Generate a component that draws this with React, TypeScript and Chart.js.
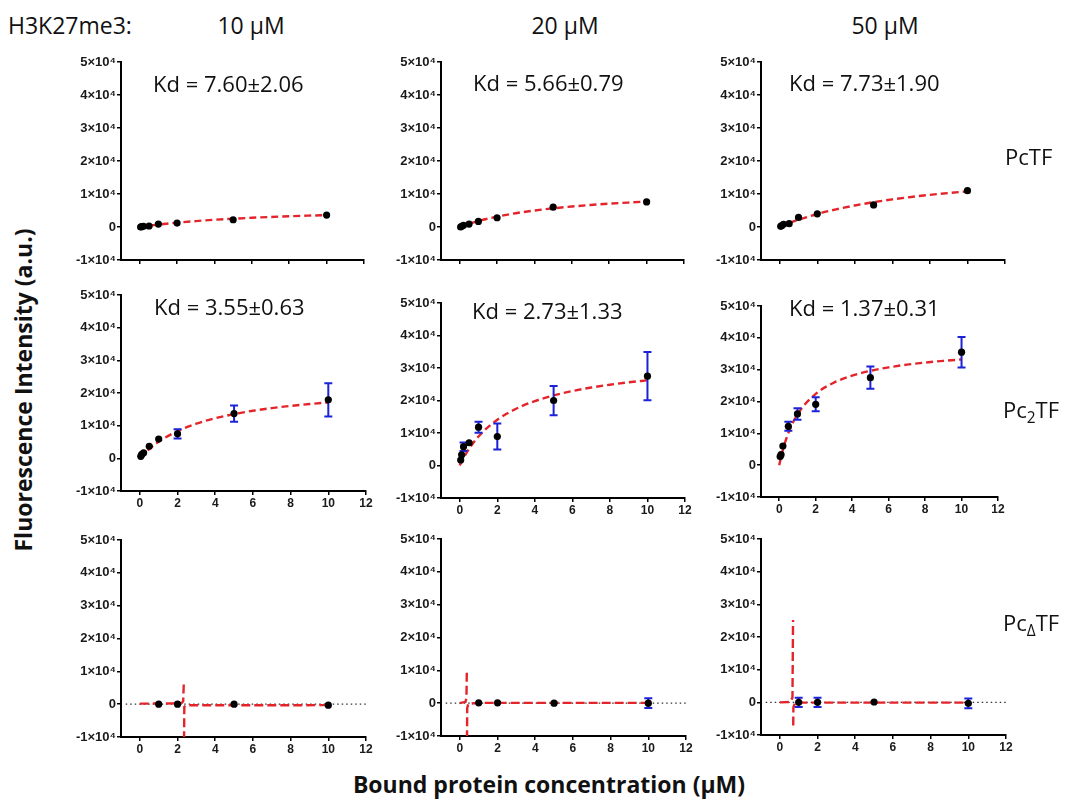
import React, { useEffect, useRef } from "react";
import { Chart, registerables } from "chart.js";
Chart.register(...registerables);

// ---------- tick labels ----------
const xTickValues = [0, 2, 4, 6, 8, 10, 12];
const yTickValues = [-10000, 0, 10000, 20000, 30000, 40000, 50000];
const yTickLabels = ["-1×10⁴", "0", "1×10⁴", "2×10⁴", "3×10⁴", "4×10⁴", "5×10⁴"];

// ---------- categories ----------
const concentrations = ["10 μM", "20 μM", "50 μM"];
const kdLabels = [
  "Kd = 7.60±2.06", "Kd = 5.66±0.79", "Kd = 7.73±1.90",
  "Kd = 3.55±0.63", "Kd = 2.73±1.33", "Kd = 1.37±0.31",
];

// ---------- x values ----------
const concFull = [0.05, 0.1, 0.2, 0.5, 1, 2, 5, 10];
const concLow = [1, 2, 5, 10];
const fitConc = [0, 0.05, 0.2, 0.5, 1, 2, 3, 4, 5, 6, 7, 8, 9, 10];

// ---------- PcTF ----------
const pcTF10 = [0, 100, 200, 300, 900, 1200, 2200, 3600];
const pcTF20 = [0, 200, 500, 900, 1700, 2800, 6000, 7600];
const pcTF50 = [200, 400, 800, 1000, 2900, 4000, 6700, 11000];
const pcTF10Fit = [0, 40, 160, 390, 740, 1320, 1790, 2190, 2510, 2800, 3040, 3250, 3440, 3600];
const pcTF20Fit = [0, 110, 410, 980, 1810, 3150, 4180, 4990, 5660, 6200, 6670, 7060, 7400, 7700];
const pcTF50Fit = [0, 120, 480, 1160, 2190, 3940, 5350, 6530, 7520, 8370, 9100, 9740, 10300, 10800];
const noErr8 = [0, 0, 0, 0, 0, 0, 0, 0];

// ---------- Pc2TF ----------
const pc2TF10 = [600, 1200, 1700, 3700, 5900, 7500, 13700, 17900];
const pc2TF10Err = [0, 0, 0, 0, 0, 1400, 2500, 5100];
const pc2TF20 = [1700, 3300, 5800, 7000, 11800, 8900, 20000, 27500];
const pc2TF20Err = [0, 0, 1300, 0, 1700, 4000, 4500, 7400];
const pc2TF50 = [2700, 3300, 6000, 12200, 16100, 19100, 27500, 35500];
const pc2TF50Err = [0, 0, 0, 1400, 1800, 2200, 3500, 4800];
const pc2TF10Fit = [0, 320, 1240, 2860, 5090, 8350, 10610, 12280, 13550, 14560, 15370, 16050, 16620, 17100];
const pc2TF20Fit = [0, 600, 2280, 5160, 8940, 14100, 17460, 19820, 21570, 22920, 23990, 24860, 25590, 26200];
const pc2TF50Fit = [0, 1330, 4810, 10090, 15930, 22400, 25920, 28120, 29630, 30730, 31570, 32230, 32760, 33200];

// ---------- PcΔTF ----------
const pcdTF10 = [0, 0, 0, -300];
const pcdTF10Err = [0, 0, 0, 0];
const pcdTF20 = [100, 100, 0, 0];
const pcdTF20Err = [0, 0, 0, 1500];
const pcdTF50 = [0, 0, 100, -300];
const pcdTF50Err = [1400, 1400, 0, 1500];
const pcdTF10FitX = [0, 2.2, 2.3, 2.335, 2.34, 2.345, 2.36, 2.45, 10];
const pcdTF10FitY = [150, 250, 900, 7000, null, -11000, -800, -350, -300];
const pcdTF20FitX = [0, 0.3, 0.35, 0.37, 0.375, 0.38, 0.39, 0.45, 1, 10];
const pcdTF20FitY = [0, 400, 1500, 9700, null, -11000, -1500, -200, 100, 100];
const pcdTF50FitX = [0, 0.55, 0.67, 0.7, 0.705, 0.71, 0.72, 0.8, 1, 10];
const pcdTF50FitY = [0, 100, 1500, 25200, null, -7100, -1500, -300, -100, -100];
const zeroLineX = [-0.75, 12];
const zeroLineY = [0, 0];

// ---------- layout (plot-area edges in page px) ----------
const AXW = 62, PADT = 10, PADR = 14, AXH = 24;
const boxes = [
  { l: 121, r: 364, t: 62, b: 260 },
  { l: 441, r: 684, t: 62, b: 260 },
  { l: 761, r: 1005, t: 62, b: 260 },
  { l: 121, r: 366, t: 295, b: 491 },
  { l: 441, r: 685, t: 303, b: 498 },
  { l: 761, r: 998, t: 306, b: 497 },
  { l: 121, r: 366, t: 540, b: 737 },
  { l: 441, r: 686, t: 539, b: 736 },
  { l: 761, r: 1006, t: 539, b: 735 },
];

type PanelDef = {
  xs: number[]; ys: number[]; errs: number[];
  fitX: number[]; fitY: (number | null)[];
  row: number; smooth: boolean; zero: boolean;
};

const panelDefs: PanelDef[] = [
  { xs: concFull, ys: pcTF10, errs: noErr8, fitX: fitConc, fitY: pcTF10Fit, row: 0, smooth: true, zero: false },
  { xs: concFull, ys: pcTF20, errs: noErr8, fitX: fitConc, fitY: pcTF20Fit, row: 0, smooth: true, zero: false },
  { xs: concFull, ys: pcTF50, errs: noErr8, fitX: fitConc, fitY: pcTF50Fit, row: 0, smooth: true, zero: false },
  { xs: concFull, ys: pc2TF10, errs: pc2TF10Err, fitX: fitConc, fitY: pc2TF10Fit, row: 1, smooth: true, zero: false },
  { xs: concFull, ys: pc2TF20, errs: pc2TF20Err, fitX: fitConc, fitY: pc2TF20Fit, row: 1, smooth: true, zero: false },
  { xs: concFull, ys: pc2TF50, errs: pc2TF50Err, fitX: fitConc, fitY: pc2TF50Fit, row: 1, smooth: true, zero: false },
  { xs: concLow, ys: pcdTF10, errs: pcdTF10Err, fitX: pcdTF10FitX, fitY: pcdTF10FitY, row: 2, smooth: false, zero: true },
  { xs: concLow, ys: pcdTF20, errs: pcdTF20Err, fitX: pcdTF20FitX, fitY: pcdTF20FitY, row: 2, smooth: false, zero: true },
  { xs: concLow, ys: pcdTF50, errs: pcdTF50Err, fitX: pcdTF50FitX, fitY: pcdTF50FitY, row: 2, smooth: false, zero: true },
];

const errorBarPlugin = {
  id: "errorBars",
  beforeDatasetDraw(chart: any, args: any) {
    const ds = chart.data.datasets[args.index];
    if (!ds.errors) return;
    const xs = chart.scales.x;
    const ys = chart.scales.y;
    const ctx = chart.ctx;
    ctx.save();
    ctx.strokeStyle = "#1c22d8";
    ctx.lineWidth = 2;
    ds.data.forEach((p: any, i: number) => {
      const e = ds.errors[i];
      if (!e) return;
      const px = xs.getPixelForValue(p.x);
      const yHi = ys.getPixelForValue(p.y + e);
      const yLo = ys.getPixelForValue(p.y - e);
      ctx.beginPath();
      ctx.moveTo(px, yHi);
      ctx.lineTo(px, yLo);
      ctx.moveTo(px - 4, yHi);
      ctx.lineTo(px + 4, yHi);
      ctx.moveTo(px - 4, yLo);
      ctx.lineTo(px + 4, yLo);
      ctx.stroke();
    });
    ctx.restore();
  },
};

function Panel({ def, box }: { def: PanelDef; box: { l: number; r: number; t: number; b: number } }) {
  const ref = useRef<HTMLCanvasElement>(null);
  const w = box.r - box.l + AXW + PADR;
  const h = box.b - box.t + PADT + AXH;
  useEffect(() => {
    const datasets: any[] = [
      {
        type: "scatter",
        data: def.xs.map((x, i) => ({ x, y: def.ys[i] })),
        errors: def.errs,
        pointRadius: 3.6,
        pointBackgroundColor: "#000",
        pointBorderColor: "#000",
        pointBorderWidth: 0,
        order: 0,
      },
      {
        type: "line",
        data: def.fitX.map((x, i) => ({ x, y: def.fitY[i] })),
        borderColor: "#e3252b",
        borderWidth: 2.4,
        borderDash: def.smooth ? [7, 4] : [9, 4],
        pointRadius: 0,
        fill: false,
        spanGaps: false,
        cubicInterpolationMode: def.smooth ? "monotone" : "default",
        tension: 0,
        order: 1,
      },
    ];
    if (def.zero) {
      datasets.push({
        type: "line",
        data: zeroLineX.map((x, i) => ({ x, y: zeroLineY[i] })),
        borderColor: "#333",
        borderWidth: 1.2,
        borderDash: [1.5, 3],
        pointRadius: 0,
        fill: false,
        order: 2,
      });
    }
    const xFont = { family: "'Liberation Sans', Arial, sans-serif", size: 12, weight: "bold" as const };
    const yFont = { family: "'Liberation Sans', Arial, sans-serif", size: 13, weight: "bold" as const };
    const chart = new Chart(ref.current!, {
      type: "scatter",
      data: { datasets },
      plugins: [errorBarPlugin],
      options: {
        animation: false,
        responsive: false,
        devicePixelRatio: 1,
        layout: { padding: { top: PADT, right: PADR, left: 0, bottom: 0 } },
        plugins: { legend: { display: false }, tooltip: { enabled: false } },
        scales: {
          x: {
            type: "linear",
            min: -1,
            max: 12,
            afterBuildTicks: (s: any) => { s.ticks = xTickValues.map((v) => ({ value: v })); },
            afterFit: (s: any) => { s.height = AXH; },
            ticks: {
              font: xFont,
              color: def.row === 0 ? "rgba(0,0,0,0)" : "#1a1a1a",
              padding: 1,
              maxRotation: 0,
              autoSkip: false,
            },
            grid: { display: true, drawOnChartArea: false, drawTicks: true, tickLength: 4, color: "#000", lineWidth: 1.5 },
            border: { display: true, color: "#000", width: 2 },
          },
          y: {
            type: "linear",
            min: -10000,
            max: 50000,
            afterBuildTicks: (s: any) => { s.ticks = yTickValues.map((v) => ({ value: v })); },
            afterFit: (s: any) => { s.width = AXW; },
            ticks: {
              font: yFont,
              color: "#1a1a1a",
              padding: 1,
              autoSkip: false,
              callback: (v: any) => {
                const idx = yTickValues.indexOf(Number(v));
                return idx >= 0 ? yTickLabels[idx] : "";
              },
            },
            grid: { display: true, drawOnChartArea: false, drawTicks: true, tickLength: 4, color: "#000", lineWidth: 1.5 },
            border: { display: true, color: "#000", width: 2 },
          },
        },
      } as any,
    });
    return () => chart.destroy();
  }, []);
  return (
    <canvas
      ref={ref}
      width={w}
      height={h}
      style={{ position: "absolute", left: box.l - AXW, top: box.t - PADT, width: w, height: h }}
    />
  );
}

const textFont = "'Open Sans', 'Noto Sans', sans-serif";

function Txt({ x, y, children, size = 22, bold = false, center = false }: any) {
  return (
    <div
      style={{
        position: "absolute",
        left: x,
        top: y,
        transform: center ? "translate(-50%, -50%)" : "translateY(-50%)",
        fontFamily: textFont,
        fontSize: size,
        fontWeight: bold ? 700 : 400,
        whiteSpace: "nowrap",
        lineHeight: 1,
        color: "#111",
      }}
    >
      {children}
    </div>
  );
}

const kdPos = [
  { x: 153, y: 83 }, { x: 473, y: 82 }, { x: 789, y: 82 },
  { x: 154, y: 306 }, { x: 472, y: 310 }, { x: 789, y: 307 },
];
const colCenters = [251, 565, 885];

export default function App() {
  return (
    <div style={{ position: "absolute", left: 0, top: 0, width: 1087, height: 800, background: "#fff", overflow: "hidden" }}>
      {panelDefs.map((d, i) => (
        <Panel key={i} def={d} box={boxes[i]} />
      ))}
      <Txt x={8} y={25} size={23}>H3K27me3:</Txt>
      {concentrations.map((c, i) => (
        <Txt key={c} x={colCenters[i]} y={25} size={23} center>{c}</Txt>
      ))}
      {kdLabels.map((k, i) => (
        <Txt key={k} x={kdPos[i].x} y={kdPos[i].y} size={22}>{k}</Txt>
      ))}
      <Txt x={1005} y={156} size={22}>PcTF</Txt>
      <Txt x={1003} y={412} size={22}>
        Pc<sub style={{ fontSize: "0.7em", verticalAlign: "-0.3em" }}>2</sub>TF
      </Txt>
      <Txt x={1003} y={625} size={22}>
        Pc<sub style={{ fontSize: "0.7em", verticalAlign: "-0.3em" }}>Δ</sub>TF
      </Txt>
      <Txt x={549} y={784} size={23} bold center>Bound protein concentration (μM)</Txt>
      <div
        style={{
          position: "absolute",
          left: 23,
          top: 390,
          transform: "translate(-50%, -50%) rotate(-90deg)",
          fontFamily: textFont,
          fontSize: 23,
          fontWeight: 700,
          whiteSpace: "nowrap",
          lineHeight: 1,
          color: "#111",
        }}
      >
        Fluorescence Intensity (a.u.)
      </div>
    </div>
  );
}
